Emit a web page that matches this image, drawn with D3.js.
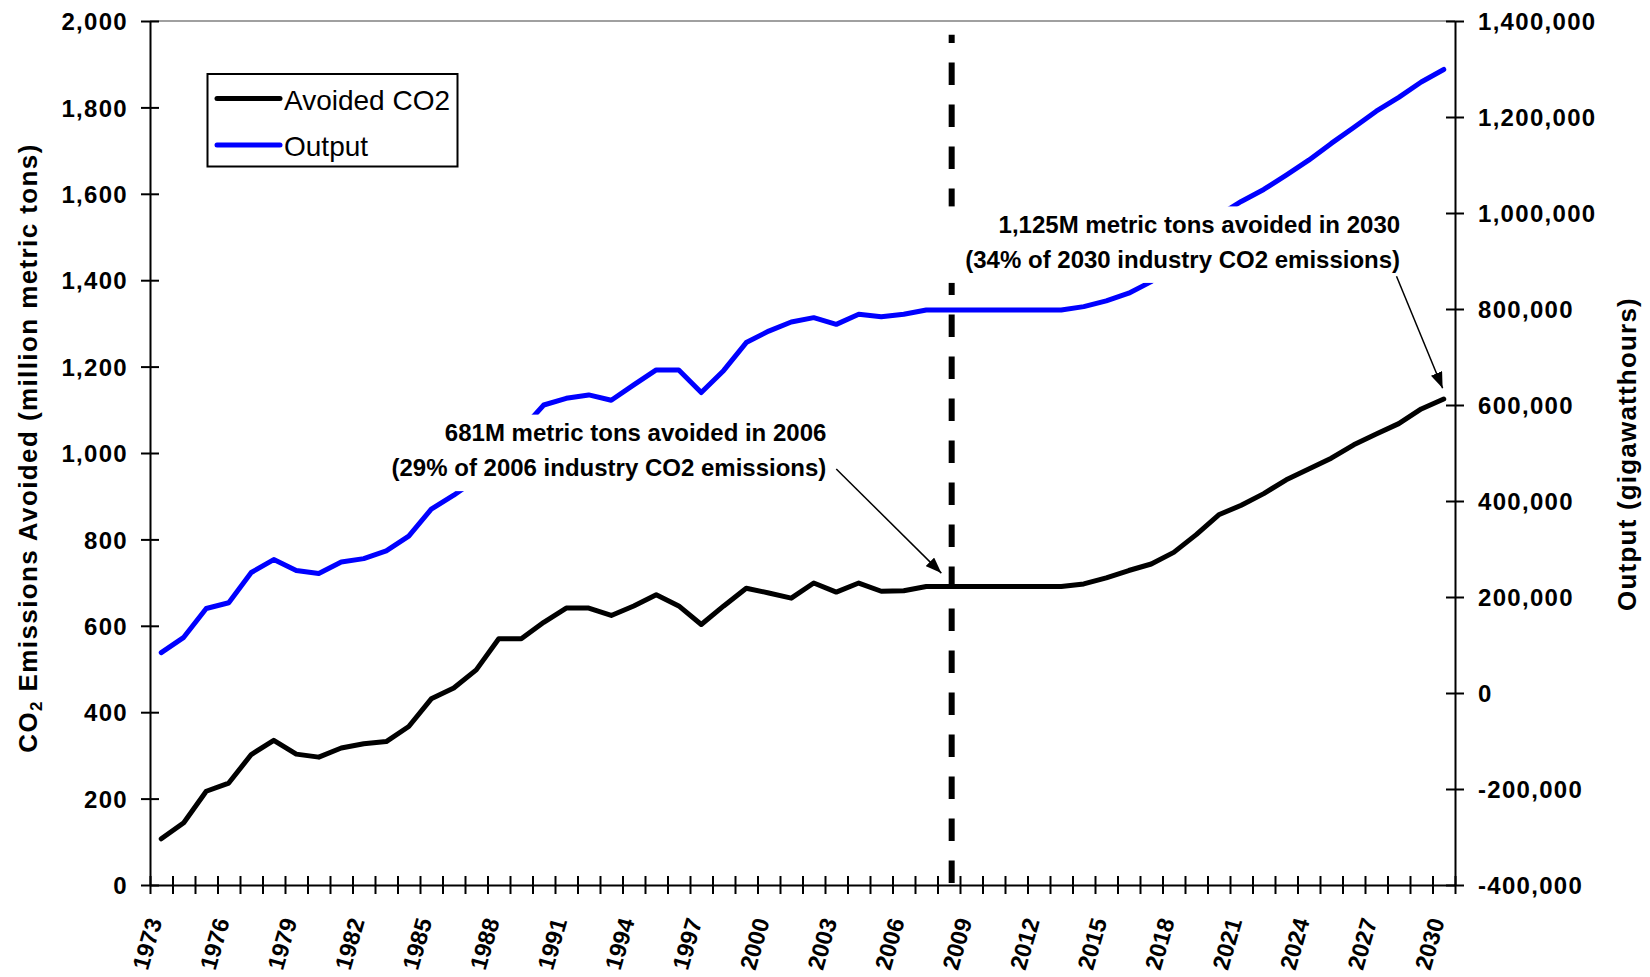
<!DOCTYPE html>
<html><head><meta charset="utf-8">
<script src="https://cdn.jsdelivr.net/npm/d3@7"></script>
<style>
html,body{margin:0;padding:0;background:#fff;}
svg{display:block;font-family:"Liberation Sans",Arial,Helvetica,sans-serif;}
</style></head><body>
<svg id="chart" width="1650" height="977"></svg>
<script>
// ---------- data ----------
const years = [1973,1974,1975,1976,1977,1978,1979,1980,1981,1982,1983,1984,1985,1986,1987,1988,1989,1990,
  1991,1992,1993,1994,1995,1996,1997,1998,1999,2000,2001,2002,2003,2004,2005,2006,2007,2008,2009,2010,
  2011,2012,2013,2014,2015,2016,2017,2018,2019,2020,2021,2022,2023,2024,2025,2026,2027,2028,2029,2030];
const avoidedCO2 = [107,144,217,236,302,335,303,296,317,327,332,367,431,456,498,
  570,570,608,641,641,624,646,672,646,603,
  646,687,676,664,699,678,699,680,681,691,
  691,691,691,691,691,691,
  697,711,728,743,770,811,857,879,906,938,963,988,1019,1044,1068,1102,1125];
const output = [84000,116000,176000,188000,251000,278000,255000,249000,273000,280000,296000,327000,383000,412000,445000,
  495000,548000,600000,614000,621000,610000,642000,673000,673000,626000,
  672000,730000,754000,773000,782000,768000,789000,784000,789000,798000,
  798000,798000,798000,798000,798000,798000,
  805000,817000,833000,857000,895000,938000,995000,1024000,1049000,1079000,1110000,1145000,1178000,1212000,1241000,1273000,1299000];
const xTickLabels = [1973,1976,1979,1982,1985,1988,1991,1994,1997,2000,2003,2006,2009,2012,2015,2018,2021,2024,2027,2030];
const leftTicks = [0,200,400,600,800,1000,1200,1400,1600,1800,2000];
const rightTicks = [-400000,-200000,0,200000,400000,600000,800000,1000000,1200000,1400000];
const seriesNames = ["Avoided CO2","Output"];
const seriesColors = ["#000000","#0000ff"];
const leftTitle = ["CO","2"," Emissions Avoided (million metric tons)"];
const rightTitle = "Output (gigawatthours)";
const markerYear = 2008.13;
const annotations = [
  {lines:["681M metric tons avoided in 2006","(29% of 2006 industry CO2 emissions)"],
   anchor:{year:2002.56,value:1027}, padL:8, padR:8,
   from:{year:2003,value:963}, to:{year:2007.67,value:722}},
  {lines:["1,125M metric tons avoided in 2030","(34% of 2030 industry CO2 emissions)"],
   anchor:{year:2028.06,value:1509}, padL:26, padR:8,
   from:{year:2027.9,value:1409}, to:{year:2029.95,value:1150}}
];

// ---------- layout ----------
const m = {left:150, right:1455, top:21, bottom:885};
const svg = d3.select("#chart");
const x = d3.scaleLinear().domain([years[0]-0.5, years[years.length-1]+0.5]).range([m.left, m.right]);
const yL = d3.scaleLinear().domain([0,2000]).range([m.bottom, m.top]);
const yR = d3.scaleLinear().domain([-400000,1400000]).range([m.bottom, m.top]);
const loc = d3.formatLocale({decimal:".", thousands:",", grouping:[3], currency:["$",""], minus:"-"});
const fmt = loc.format(",");

// top border
svg.append("line").attr("x1",m.left).attr("x2",m.right).attr("y1",m.top).attr("y2",m.top)
  .attr("stroke","#808080").attr("stroke-width",1.5);

// dashed divider
svg.append("line").attr("x1",x(markerYear)).attr("x2",x(markerYear))
  .attr("y1",yL(0)-2).attr("y2",yL(1968))
  .attr("stroke","#000").attr("stroke-width",6).attr("stroke-dasharray","22.5 19.5");

// left axis
const gL = svg.append("g").attr("transform",`translate(${m.left},0)`)
  .call(d3.axisLeft(yL).tickValues(leftTicks).tickFormat(fmt).tickSize(9).tickSizeOuter(0).tickPadding(13));
// right axis
const gR = svg.append("g").attr("transform",`translate(${m.right},0)`)
  .call(d3.axisRight(yR).tickValues(rightTicks).tickFormat(fmt).tickSize(9).tickSizeOuter(0).tickPadding(14));
[gL,gR].forEach(g=>{
  g.select(".domain").attr("stroke","#000").attr("stroke-width",2);
  g.selectAll(".tick line").attr("x1",-9).attr("x2",9).attr("stroke","#000").attr("stroke-width",2);
  g.selectAll(".tick text").attr("font-size",24).attr("font-weight","bold").attr("fill","#000")
    .attr("font-family","'Liberation Sans',Arial,sans-serif").style("letter-spacing","1.3px").attr("dy","0.36em");
});

// x axis
const boundaries = years.map(d=>d-0.5).concat([years[years.length-1]+0.5]);
const gX = svg.append("g").attr("transform",`translate(0,${m.bottom})`)
  .call(d3.axisBottom(x).tickValues(boundaries).tickFormat("").tickSize(9).tickSizeOuter(0));
gX.select(".domain").attr("stroke","#000").attr("stroke-width",2);
gX.selectAll(".tick line").attr("y1",-9).attr("y2",9).attr("stroke","#000").attr("stroke-width",2);
svg.append("g").selectAll("text").data(xTickLabels).join("text")
  .attr("transform",d=>`translate(${x(d)+1},${m.bottom+36}) rotate(-74)`)
  .attr("text-anchor","end").attr("font-size",23.5).attr("font-weight","bold").text(d=>d);

// series lines
const series = [
  {name:seriesNames[0], color:seriesColors[0], vals:avoidedCO2, y:yL},
  {name:seriesNames[1], color:seriesColors[1], vals:output, y:yR}
];
series.slice().reverse().forEach(s=>{
  const line = d3.line().x((d,i)=>x(years[i])).y(d=>s.y(d));
  svg.append("path").datum(s.vals).attr("d",line).attr("fill","none")
    .attr("stroke",s.color).attr("stroke-width",5).attr("stroke-linejoin","round").attr("stroke-linecap","round");
});

// arrow marker
svg.append("defs").append("marker").attr("id","ah").attr("markerUnits","userSpaceOnUse")
  .attr("viewBox","0 0 16 12").attr("markerWidth",16).attr("markerHeight",12)
  .attr("refX",16).attr("refY",6).attr("orient","auto")
  .append("path").attr("d","M0,0 L16,6 L0,12 Z").attr("fill","#000");

// annotations
annotations.forEach(a=>{
  const g = svg.append("g");
  const rx = x(a.anchor.year), by = yL(a.anchor.value);
  const rect = g.append("rect").attr("fill","#fff");
  const t = g.append("text").attr("text-anchor","end").attr("font-size",24).attr("font-weight","bold");
  a.lines.forEach((ln,i)=>t.append("tspan").attr("x",rx).attr("y",by+i*34.8).text(ln));
  const bb = t.node().getBBox();
  rect.attr("x",bb.x-a.padL).attr("width",bb.width+a.padL+a.padR)
    .attr("y",by-26.7).attr("height",34.8*(a.lines.length-1)+26.7+15);
  t.raise();
  svg.append("line").attr("x1",x(a.from.year)).attr("y1",yL(a.from.value))
    .attr("x2",x(a.to.year)).attr("y2",yL(a.to.value))
    .attr("stroke","#000").attr("stroke-width",1.5).attr("marker-end","url(#ah)");
});

// legend
const lg = svg.append("g");
lg.append("rect").attr("x",207.5).attr("y",74).attr("width",250).attr("height",92.5)
  .attr("fill","#fff").attr("stroke","#000").attr("stroke-width",2);
series.forEach((s,i)=>{
  const cy = 98.5 + i*46.5;
  lg.append("line").attr("x1",217).attr("x2",280).attr("y1",cy).attr("y2",cy)
    .attr("stroke",s.color).attr("stroke-width",5).attr("stroke-linecap","round");
  lg.append("text").attr("x",284).attr("y",cy+11).attr("font-size",28).attr("fill","#000").text(s.name);
});

// axis titles
const lt = svg.append("text").attr("transform","translate(37,448) rotate(-90)")
  .attr("text-anchor","middle").attr("font-size",26).attr("font-weight","bold").style("letter-spacing","1.4px");
lt.append("tspan").text(leftTitle[0]);
lt.append("tspan").attr("font-size",17).attr("dy",5).text(leftTitle[1]);
lt.append("tspan").attr("dy",-5).text(leftTitle[2]);
svg.append("text").attr("transform","translate(1636,454) rotate(-90)")
  .attr("text-anchor","middle").attr("font-size",26).attr("font-weight","bold").style("letter-spacing","1.2px")
  .text(rightTitle);
</script>
</body></html>
